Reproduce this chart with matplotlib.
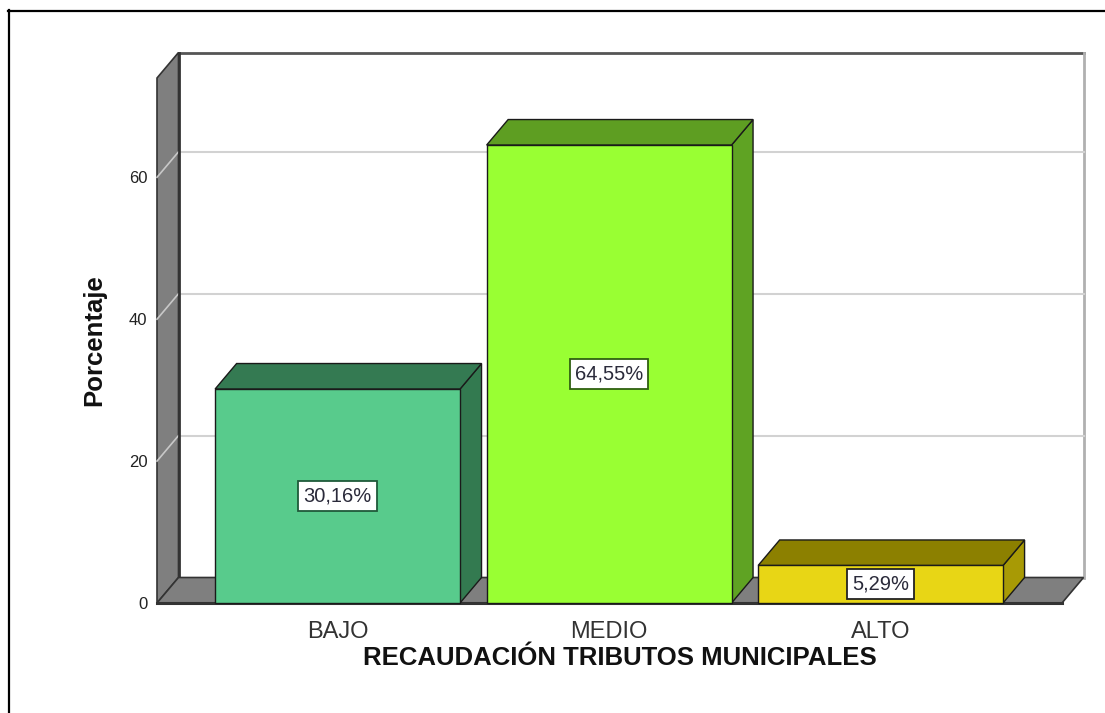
import matplotlib
matplotlib.use("Agg")
import matplotlib.pyplot as plt
from matplotlib.patches import Polygon, Rectangle
from matplotlib.lines import Line2D

plt.rcParams['font.family'] = ['Liberation Sans', 'DejaVu Sans']

categories = ['BAJO', 'MEDIO', 'ALTO']
values = [30.16, 64.55, 5.29]
yticks = [0, 20, 40, 60]
front_colors = ['#58CB8C', '#99FF33', '#E8D615']
top_colors = ['#347A52', '#5E9E22', '#8C8000']
side_colors = ['#337A50', '#5FA323', '#A89A05']
label_edge_colors = ['#1f5a3a', '#2f6010', '#222222']
xlabel = 'RECAUDACIÓN TRIBUTOS MUNICIPALES'
ylabel = 'Porcentaje'

W, H = 1105, 713
fig = plt.figure(figsize=(W / 100, H / 100), dpi=100)
ax = fig.add_axes([157 / W, 1 - 603 / H, (1062 - 157) / W, (603 - 78) / H])
x0, x1 = -0.665, 2.668
ymax = 74
ax.set_xlim(x0, x1)
ax.set_ylim(0, ymax)
ax.patch.set_visible(False)
for s in ax.spines.values():
    s.set_visible(False)

px_x = (x1 - x0) / (1062 - 157)
px_y = ymax / (603 - 78)
dx = 21.5 * px_x
dy = 25.5 * px_y
bw = 0.902

# back wall
ax.add_patch(Rectangle((x0 + dx, dy), x1 - x0, ymax, facecolor='white',
                       edgecolor='none', clip_on=False, zorder=1))
ax.add_line(Line2D([x0 + dx, x1 + dx], [ymax + dy, ymax + dy], color='#555555',
                   lw=2, clip_on=False, zorder=2))
ax.add_line(Line2D([x1 + dx, x1 + dx], [dy, ymax + dy], color='#b0b0b0',
                   lw=2, clip_on=False, zorder=2))
# gridlines
for v in yticks[1:]:
    ax.add_line(Line2D([x0 + dx, x1 + dx], [v + dy, v + dy], color='#d2d2d2',
                       lw=1.5, clip_on=False, zorder=2))
# left wall
ax.add_patch(Polygon([(x0, 0), (x0, ymax), (x0 + dx, ymax + dy), (x0 + dx, dy)],
                     closed=True, facecolor='#7f7f7f', edgecolor='#333333',
                     lw=1.2, clip_on=False, zorder=3))
ax.add_line(Line2D([x0 + dx, x0 + dx], [dy, ymax + dy], color='#333333',
                   lw=2, clip_on=False, zorder=3.2))
for v in yticks[1:]:
    ax.add_line(Line2D([x0, x0 + dx], [v, v + dy], color='#c8c8c8',
                       lw=1.2, clip_on=False, zorder=3.1))
# floor
ax.add_patch(Polygon([(x0, 0), (x1, 0), (x1 + dx, dy), (x0 + dx, dy)],
                     closed=True, facecolor='#7f7f7f', edgecolor='#333333',
                     lw=1.2, clip_on=False, zorder=4))
ax.add_line(Line2D([x0, x1], [0, 0], color='#333333', lw=2.2,
                   clip_on=False, zorder=4.1))

# bars
for i, (cat, v) in enumerate(zip(categories, values)):
    l, r = i - bw / 2, i + bw / 2
    z = 5 + i
    ax.add_patch(Polygon([(r, 0), (r, v), (r + dx, v + dy), (r + dx, dy)],
                         closed=True, facecolor=side_colors[i], edgecolor='#1a1a1a',
                         lw=1, clip_on=False, zorder=z))
    ax.add_patch(Polygon([(l, v), (r, v), (r + dx, v + dy), (l + dx, v + dy)],
                         closed=True, facecolor=top_colors[i], edgecolor='#1a1a1a',
                         lw=1, clip_on=False, zorder=z))
    ax.add_patch(Rectangle((l, 0), bw, v, facecolor=front_colors[i],
                           edgecolor='#1a1a1a', lw=1, clip_on=False, zorder=z + 0.1))
    lab = f"{v:.2f}".replace('.', ',') + '%'
    ax.text(i, v / 2, lab, ha='center', va='center', fontsize=14.5, color='#2a2a3a',
            zorder=z + 0.5,
            bbox=dict(boxstyle='square,pad=0.26', facecolor='white',
                      edgecolor=label_edge_colors[i], lw=1.3))

ax.set_xticks(range(len(categories)))
ax.set_xticklabels(categories, fontsize=17, color='#333333')
ax.set_yticks(yticks)
ax.set_yticklabels([str(t) for t in yticks], fontsize=12, color='#222222')
ax.tick_params(axis='x', length=0, pad=13)
ax.tick_params(axis='y', length=0, pad=7)

fig.text(94 / W, 1 - 340 / H, ylabel, rotation=90, ha='center', va='center',
         fontsize=18.5, fontweight='bold', color='#111111')
fig.text(620 / W, 1 - 658 / H, xlabel, ha='center', va='center',
         fontsize=18.5, fontweight='bold', color='#111111')

# outer border (top and left edges)
fig.add_artist(Line2D([8 / W, 1], [1 - 10.5 / H, 1 - 10.5 / H], color='black', lw=1.6,
                      transform=fig.transFigure))
fig.add_artist(Line2D([8.5 / W, 8.5 / W], [0, 1 - 10 / H], color='black', lw=1.6,
                      transform=fig.transFigure))

fig.savefig('out.png', dpi=100)
